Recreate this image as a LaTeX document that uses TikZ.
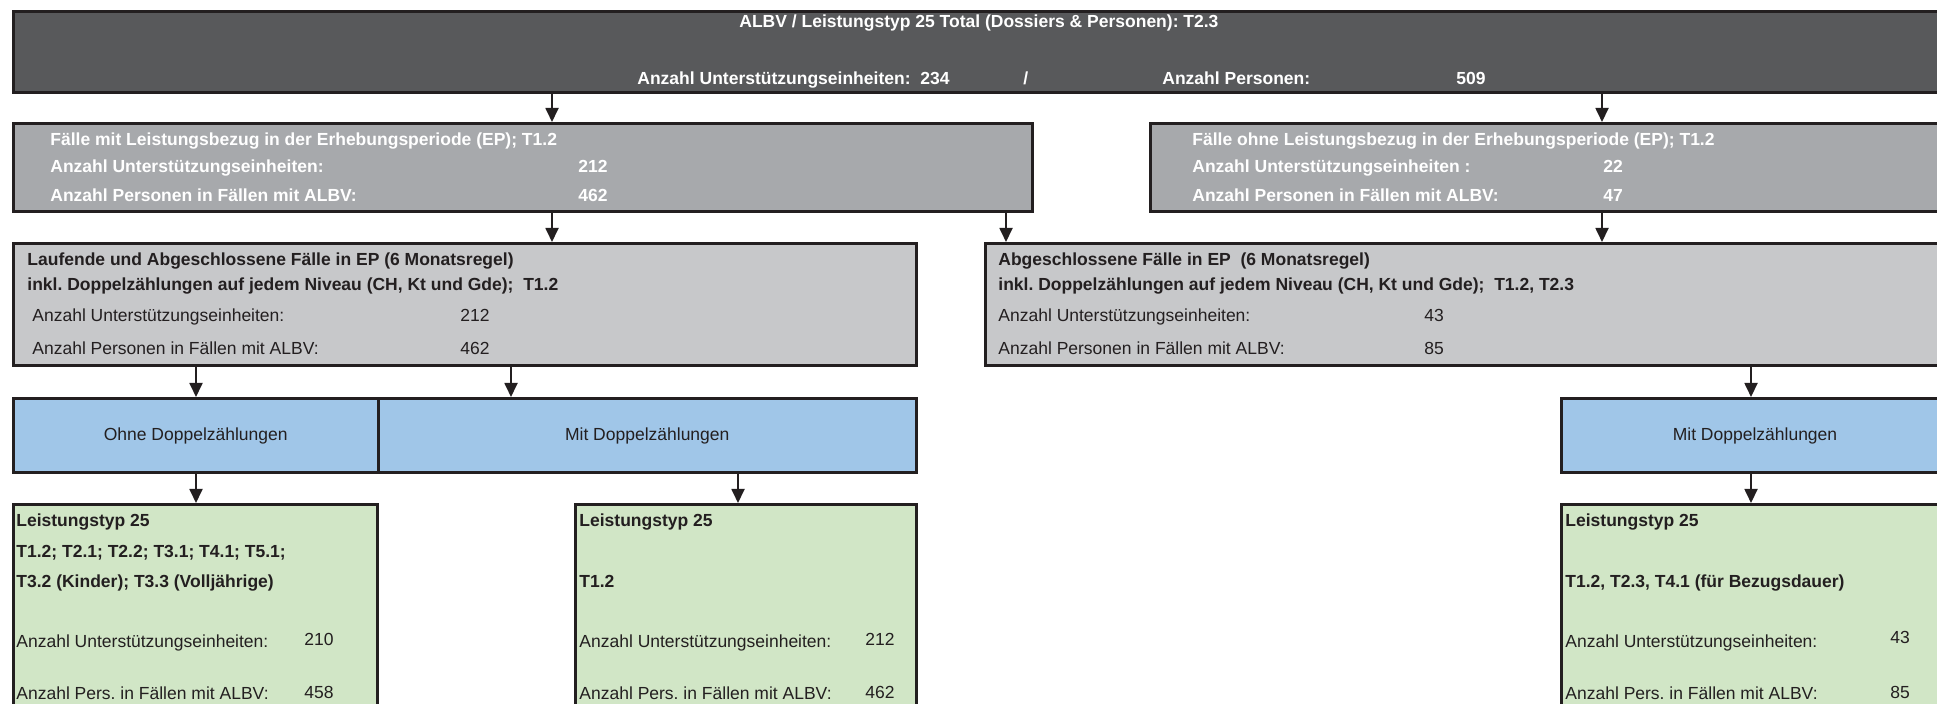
\documentclass[tikz,border=0pt]{standalone}
\usepackage{fontspec}
\setmainfont{Liberation Sans}
\usetikzlibrary{arrows.meta,fit}
\definecolor{topgrey}{HTML}{58595B}
\definecolor{midgrey}{HTML}{A7A9AC}
\definecolor{lightgrey}{HTML}{C7C8CA}
\definecolor{bluebox}{HTML}{A0C6E8}
\definecolor{greenbox}{HTML}{D1E6C6}
\definecolor{bordercol}{HTML}{231F20}
\definecolor{textcol}{HTML}{231F20}
\frenchspacing
\begin{document}
\begin{tikzpicture}[x=0.5pt,y=-0.5pt,
  box/.style={draw=bordercol, line width=1.5pt, inner sep=0pt},
  txt/.style={anchor=base west, inner sep=0pt, text=textcol, font=\fontsize{8.75}{10}\selectfont},
  btxt/.style={txt, font=\fontsize{8.75}{10}\selectfont\bfseries},
  wtxt/.style={btxt, text=white},
  ctxt/.style={anchor=center, inner sep=0pt, text=textcol, font=\fontsize{8.75}{10}\selectfont},
  arr/.style={draw=bordercol, line width=0.9pt, -{Triangle[length=7pt,width=6.5pt]}},
]
\useasboundingbox (0,0) rectangle (1937,704);
\fill[white] (0,0) rectangle (1937,704);
\clip (0,0) rectangle (1937,704);

% boxes
\node[box, fill=topgrey, fit={(13.5,11.5) (1965,92.5)}] (top) {};
\node[box, fill=midgrey, fit={(13.5,123.5) (1032.5,211.5)}] (b2l) {};
\node[box, fill=midgrey, fit={(1150.5,123.5) (1965,211.5)}] (b2r) {};
\node[box, fill=lightgrey, fit={(13.5,243.5) (916.5,365.5)}] (b3l) {};
\node[box, fill=lightgrey, fit={(985.5,243.5) (1965,365.5)}] (b3r) {};
\node[box, fill=bluebox, fit={(13.5,398.5) (378,473)}] (bll) {};
\node[box, fill=bluebox, fit={(378,398.5) (916.5,473)}] (blm) {};
\node[box, fill=bluebox, fit={(1561.5,398.5) (1965,473)}] (blr) {};
\node[box, fill=greenbox, fit={(13.5,504.5) (377,740)}] (grl) {};
\node[box, fill=greenbox, fit={(575.5,504.5) (916.5,740)}] (grm) {};
\node[box, fill=greenbox, fit={(1561.5,504.5) (1965,740)}] (grr) {};

% arrow columns
\coordinate (xa) at (552,0);
\coordinate (xb) at (1602,0);
\coordinate (xc) at (1006,0);
\coordinate (xd) at (196,0);
\coordinate (xe) at (511,0);
\coordinate (xf) at (1751,0);
\coordinate (xg) at (738,0);

\draw[arr] (top.south -| xa) -- (b2l.north -| xa);
\draw[arr] (top.south -| xb) -- (b2r.north -| xb);
\draw[arr] (b2l.south -| xa) -- (b3l.north -| xa);
\draw[arr] (b2l.south -| xc) -- (b3r.north -| xc);
\draw[arr] (b2r.south -| xb) -- (b3r.north -| xb);
\draw[arr] (b3l.south -| xd) -- (bll.north -| xd);
\draw[arr] (b3l.south -| xe) -- (blm.north -| xe);
\draw[arr] (b3r.south -| xf) -- (blr.north -| xf);
\draw[arr] (bll.south -| xd) -- (grl.north -| xd);
\draw[arr] (blm.south -| xg) -- (grm.north -| xg);
\draw[arr] (blr.south -| xf) -- (grr.north -| xf);

% top box text
\node[wtxt] (t1) at (739,28) {ALBV / Leistungstyp 25 Total (Dossiers \& Personen): T2.3};
\node[wtxt] (t2) at (637,85) {Anzahl Unterstützungseinheiten:\ \ 234};
\node[wtxt] (t3) at (1023,85) {/};
\node[wtxt] (t4) at (1162,85) {Anzahl Personen:};
\node[wtxt] (t5) at (1456,85) {509};

% second row
\node[wtxt] (l2a) at (50,146) {Fälle mit Leistungsbezug in der Erhebungsperiode (EP); T1.2};
\node[wtxt] (l2b) at (50,173) {Anzahl Unterstützungseinheiten:};
\node[wtxt] (l2c) at (578,173) {212};
\node[wtxt] (l2d) at (50,202) {Anzahl Personen in Fällen mit ALBV:};
\node[wtxt] (l2e) at (578,202) {462};

\node[wtxt] (r2a) at (1192,146) {Fälle ohne Leistungsbezug in der Erhebungsperiode (EP); T1.2};
\node[wtxt] (r2b) at (1192,173) {Anzahl Unterstützungseinheiten :};
\node[wtxt] (r2c) at (1603,173) {22};
\node[wtxt] (r2d) at (1192,202) {Anzahl Personen in Fällen mit ALBV:};
\node[wtxt] (r2e) at (1603,202) {47};

% third row
\node[btxt] (l3a) at (27,266) {Laufende und Abgeschlossene Fälle in EP (6 Monatsregel)};
\node[btxt] (l3b) at (27,291) {inkl. Doppelzählungen auf jedem Niveau (CH, Kt und Gde);\ \ T1.2};
\node[txt] (l3c) at (32,322) {Anzahl Unterstützungseinheiten:};
\node[txt] (l3d) at (460,322) {212};
\node[txt] (l3e) at (32,355) {Anzahl Personen in Fällen mit ALBV:};
\node[txt] (l3f) at (460,355) {462};

\node[btxt] (r3a) at (998,266) {Abgeschlossene Fälle in EP\ \ (6 Monatsregel)};
\node[btxt] (r3b) at (998,291) {inkl. Doppelzählungen auf jedem Niveau (CH, Kt und Gde);\ \ T1.2, T2.3};
\node[txt] (r3c) at (998,322) {Anzahl Unterstützungseinheiten:};
\node[txt] (r3d) at (1424,322) {43};
\node[txt] (r3e) at (998,355) {Anzahl Personen in Fällen mit ALBV:};
\node[txt] (r3f) at (1424,355) {85};

% blue row
\node[ctxt] (bt1) at (bll.center) {Ohne Doppelzählungen};
\node[ctxt] (bt2) at (blm.center) {Mit Doppelzählungen};
\node[ctxt] (bt3) at (1755,436) {Mit Doppelzählungen};

% green row
\node[btxt] (g1a) at (16,527) {Leistungstyp 25};
\node[btxt] (g1b) at (16,558) {T1.2; T2.1; T2.2; T3.1; T4.1; T5.1;};
\node[btxt] (g1c) at (16,588) {T3.2 (Kinder); T3.3 (Volljährige)};
\node[txt] (g1d) at (16,647) {Anzahl Unterstützungseinheiten:};
\node[txt] (g1e) at (304,646) {210};
\node[txt] (g1f) at (16,699) {Anzahl Pers. in Fällen mit ALBV:};
\node[txt] (g1g) at (304,698) {458};

\node[btxt] (g2a) at (579,527) {Leistungstyp 25};
\node[btxt] (g2b) at (579,588) {T1.2};
\node[txt] (g2d) at (579,647) {Anzahl Unterstützungseinheiten:};
\node[txt] (g2e) at (865,646) {212};
\node[txt] (g2f) at (579,699) {Anzahl Pers. in Fällen mit ALBV:};
\node[txt] (g2g) at (865,698) {462};

\node[btxt] (g3a) at (1565,527) {Leistungstyp 25};
\node[btxt] (g3b) at (1565,588) {T1.2, T2.3, T4.1 (für Bezugsdauer)};
\node[txt] (g3d) at (1565,647) {Anzahl Unterstützungseinheiten:};
\node[txt] (g3e) at (1890,644) {43};
\node[txt] (g3f) at (1565,699) {Anzahl Pers. in Fällen mit ALBV:};
\node[txt] (g3g) at (1890,698) {85};
\end{tikzpicture}
\end{document}
